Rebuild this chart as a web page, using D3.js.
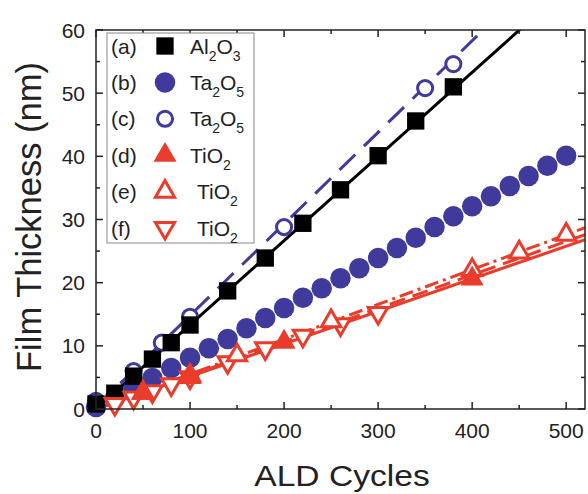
<!DOCTYPE html>
<html>
<head>
<meta charset="utf-8">
<script src="https://cdn.jsdelivr.net/npm/d3@7"></script>
<style>
  body { margin: 0; background: #fff; }
  svg { font-family: "Liberation Sans", Arial, sans-serif; }
</style>
</head>
<body>
<svg id="drawing_region"></svg>
<script>
// (a) Al2O3
const cyclesA = [0, 20, 40, 60, 80, 100, 140, 180, 220, 260, 300, 340, 380];
const thickA = [0.8, 2.5, 5.2, 7.9, 10.5, 13.3, 18.7, 23.9, 29.4, 34.7, 40.1, 45.6, 51.0];
// (b) Ta2O5 filled
const cyclesB = [0, 20, 40, 60, 80, 100, 120, 140, 160, 180, 200, 220, 240, 260, 280, 300, 320, 340, 360, 380, 400, 420, 440, 460, 480, 500];
const thickB = [0.3, 1.7, 3.3, 4.9, 6.5, 8.1, 9.6, 11.1, 12.8, 14.4, 16.0, 17.6, 19.1, 20.7, 22.3, 23.9, 25.5, 27.1, 28.8, 30.5, 32.1, 33.7, 35.3, 36.9, 38.5, 40.1];
// (c) Ta2O5 open
const cyclesC = [0, 40, 70, 100, 200, 350, 380];
const thickC = [1.3, 6.0, 10.5, 14.6, 28.8, 50.8, 54.6];
// (d) TiO2 filled up
const cyclesD = [50, 100, 200, 400];
const thickD = [2.5, 5.0, 10.6, 20.6];
// (e) TiO2 open up
const cyclesE = [50, 100, 150, 250, 400, 450, 500];
const thickE = [2.6, 5.3, 8.5, 13.9, 22.0, 24.8, 27.6];
// (f) TiO2 open down
const cyclesF = [20, 40, 60, 80, 100, 140, 180, 220, 260, 300];
const thickF = [0.8, 1.8, 2.8, 3.9, 5.0, 7.4, 9.6, 11.6, 13.4, 15.2];

// fit lines (end points)
const fitCycles = [0, 520];
const fitA = [0, 69.3];
const fitC = [0.3, 75.7];
const fitD = [0, 26.8];
const fitE = [0, 28.7];
const fitF = [0, 27.6];

const xTicks = [0, 100, 200, 300, 400, 500];
const yTicks = [0, 10, 20, 30, 40, 50, 60];

const legendTags = ["(a)", "(b)", "(c)", "(d)", "(e)", "(f)"];
const legendNames = [["Al", "2", "O", "3"], ["Ta", "2", "O", "5"], ["Ta", "2", "O", "5"], ["TiO", "2"], ["TiO", "2"], ["TiO", "2"]];

const BLUE = "#3f3a9c";
const RED = "#ea3b2b";

const config = {
  width: 588,
  height: 494,
  margin: { top: 30, right: 3, bottom: 85, left: 96 },
};

const svg = d3.select("#drawing_region")
  .attr("width", config.width)
  .attr("height", config.height);

const innerW = config.width - config.margin.left - config.margin.right;
const innerH = config.height - config.margin.top - config.margin.bottom;

const xscale = d3.scaleLinear().domain([0, 520]).range([0, innerW]);
const yscale = d3.scaleLinear().domain([0, 60]).range([innerH, 0]);

const chart = svg.append("g")
  .attr("transform", `translate(${config.margin.left}, ${config.margin.top})`);

chart.append("clipPath").attr("id", "clip")
  .append("rect").attr("width", innerW).attr("height", innerH);

// fit lines
const line = d3.line().x((d) => xscale(d[0])).y((d) => yscale(d[1]));
const fits = [
  { y: fitA, color: "#000", dash: null },
  { y: fitC, color: BLUE, dash: "22,12" },
  { y: fitD, color: RED, dash: null },
  { y: fitF, color: RED, dash: "16,8" },
  { y: fitE, color: RED, dash: "14,5,3,5" },
];
chart.append("g").attr("clip-path", "url(#clip)")
  .selectAll("path")
  .data(fits)
  .join("path")
  .attr("d", (f) => line(fitCycles.map((c, i) => [c, f.y[i]])))
  .attr("fill", "none")
  .attr("stroke", (f) => f.color)
  .attr("stroke-width", 3)
  .attr("stroke-dasharray", (f) => f.dash);

// series
const series = [
  { xs: cyclesB, ys: thickB, type: d3.symbolCircle, size: 330, fill: BLUE, stroke: "none", rot: 0 },
  { xs: cyclesC, ys: thickC, type: d3.symbolCircle, size: 180, fill: "#fff", stroke: BLUE, rot: 0 },
  { xs: cyclesA, ys: thickA, type: d3.symbolSquare, size: 300, fill: "#000", stroke: "none", rot: 0 },
  { xs: cyclesF, ys: thickF, type: d3.symbolTriangle, size: 160, fill: "#fff", stroke: RED, rot: 180 },
  { xs: cyclesE, ys: thickE, type: d3.symbolTriangle, size: 160, fill: "#fff", stroke: RED, rot: 0 },
  { xs: cyclesD, ys: thickD, type: d3.symbolTriangle, size: 230, fill: RED, stroke: "none", rot: 0 },
];
const legendOrder = [2, 0, 1, 5, 4, 3];

series.forEach((s) => {
  chart.append("g")
    .selectAll("path")
    .data(s.xs.map((c, i) => [c, s.ys[i]]))
    .join("path")
    .attr("d", d3.symbol().type(s.type).size(s.size))
    .attr("transform", (d) => `translate(${xscale(d[0])}, ${yscale(d[1])}) rotate(${s.rot})`)
    .attr("fill", s.fill)
    .attr("stroke", s.stroke)
    .attr("stroke-width", 3);
});

// frame
chart.append("rect")
  .attr("width", innerW).attr("height", innerH)
  .attr("fill", "none").attr("stroke", "#222").attr("stroke-width", 1.5);

// ticks (inward, all sides)
const ticksG = chart.append("g").attr("stroke", "#222").attr("stroke-width", 1.5);
d3.range(0, 521, 50).forEach((v) => {
  const len = v % 100 === 0 ? 7 : 4;
  ticksG.append("line").attr("x1", xscale(v)).attr("x2", xscale(v)).attr("y1", innerH).attr("y2", innerH - len);
  ticksG.append("line").attr("x1", xscale(v)).attr("x2", xscale(v)).attr("y1", 0).attr("y2", len);
});
d3.range(0, 61, 5).forEach((v) => {
  const len = v % 10 === 0 ? 7 : 4;
  ticksG.append("line").attr("y1", yscale(v)).attr("y2", yscale(v)).attr("x1", 0).attr("x2", len);
  ticksG.append("line").attr("y1", yscale(v)).attr("y2", yscale(v)).attr("x1", innerW).attr("x2", innerW - len);
});

// tick labels
chart.append("g").selectAll("text")
  .data(xTicks).join("text")
  .attr("x", (d) => xscale(d))
  .attr("y", innerH + 29)
  .attr("text-anchor", "middle")
  .attr("font-size", "21px")
  .attr("fill", "#222")
  .text((d) => d);

chart.append("g").selectAll("text")
  .data(yTicks).join("text")
  .attr("x", -11)
  .attr("y", (d) => yscale(d) + 7.5)
  .attr("text-anchor", "end")
  .attr("font-size", "21px")
  .attr("fill", "#222")
  .text((d) => d);

// axis titles
svg.append("text")
  .attr("transform", "translate(342, 486) scale(1.12, 1)")
  .attr("text-anchor", "middle")
  .attr("font-size", "30px")
  .attr("fill", "#222")
  .text("ALD Cycles");

svg.append("text")
  .attr("transform", "translate(41, 217) rotate(-90)")
  .attr("text-anchor", "middle")
  .attr("font-size", "34.5px")
  .attr("fill", "#222")
  .text("Film Thickness (nm)");

// legend
const legend = svg.append("g");
legend.append("rect")
  .attr("x", 107).attr("y", 33)
  .attr("width", 147).attr("height", 210)
  .attr("fill", "#fff").attr("stroke", "#888").attr("stroke-width", 1);

legendTags.forEach((tag, i) => {
  const cy = 46 + i * 36.4;
  const s = series[legendOrder[i]];
  legend.append("text")
    .attr("x", 111).attr("y", cy + 7.5)
    .attr("font-size", "21px").attr("fill", "#222")
    .text(tag);
  legend.append("path")
    .attr("d", d3.symbol().type(s.type).size(s.size))
    .attr("transform", `translate(165, ${cy}) rotate(${s.rot})`)
    .attr("fill", s.fill)
    .attr("stroke", s.stroke)
    .attr("stroke-width", 3);
  const t = legend.append("text")
    .attr("x", i >= 4 ? 197 : 190).attr("y", cy + 7.5)
    .attr("font-size", "21px").attr("fill", "#222");
  legendNames[i].forEach((part, j) => {
    const sub = j % 2 === 1;
    t.append("tspan")
      .attr("font-size", sub ? "14px" : "21px")
      .attr("dy", sub ? 7 : (j > 0 ? -7 : 0))
      .text(part);
  });
});
</script>
</body>
</html>
